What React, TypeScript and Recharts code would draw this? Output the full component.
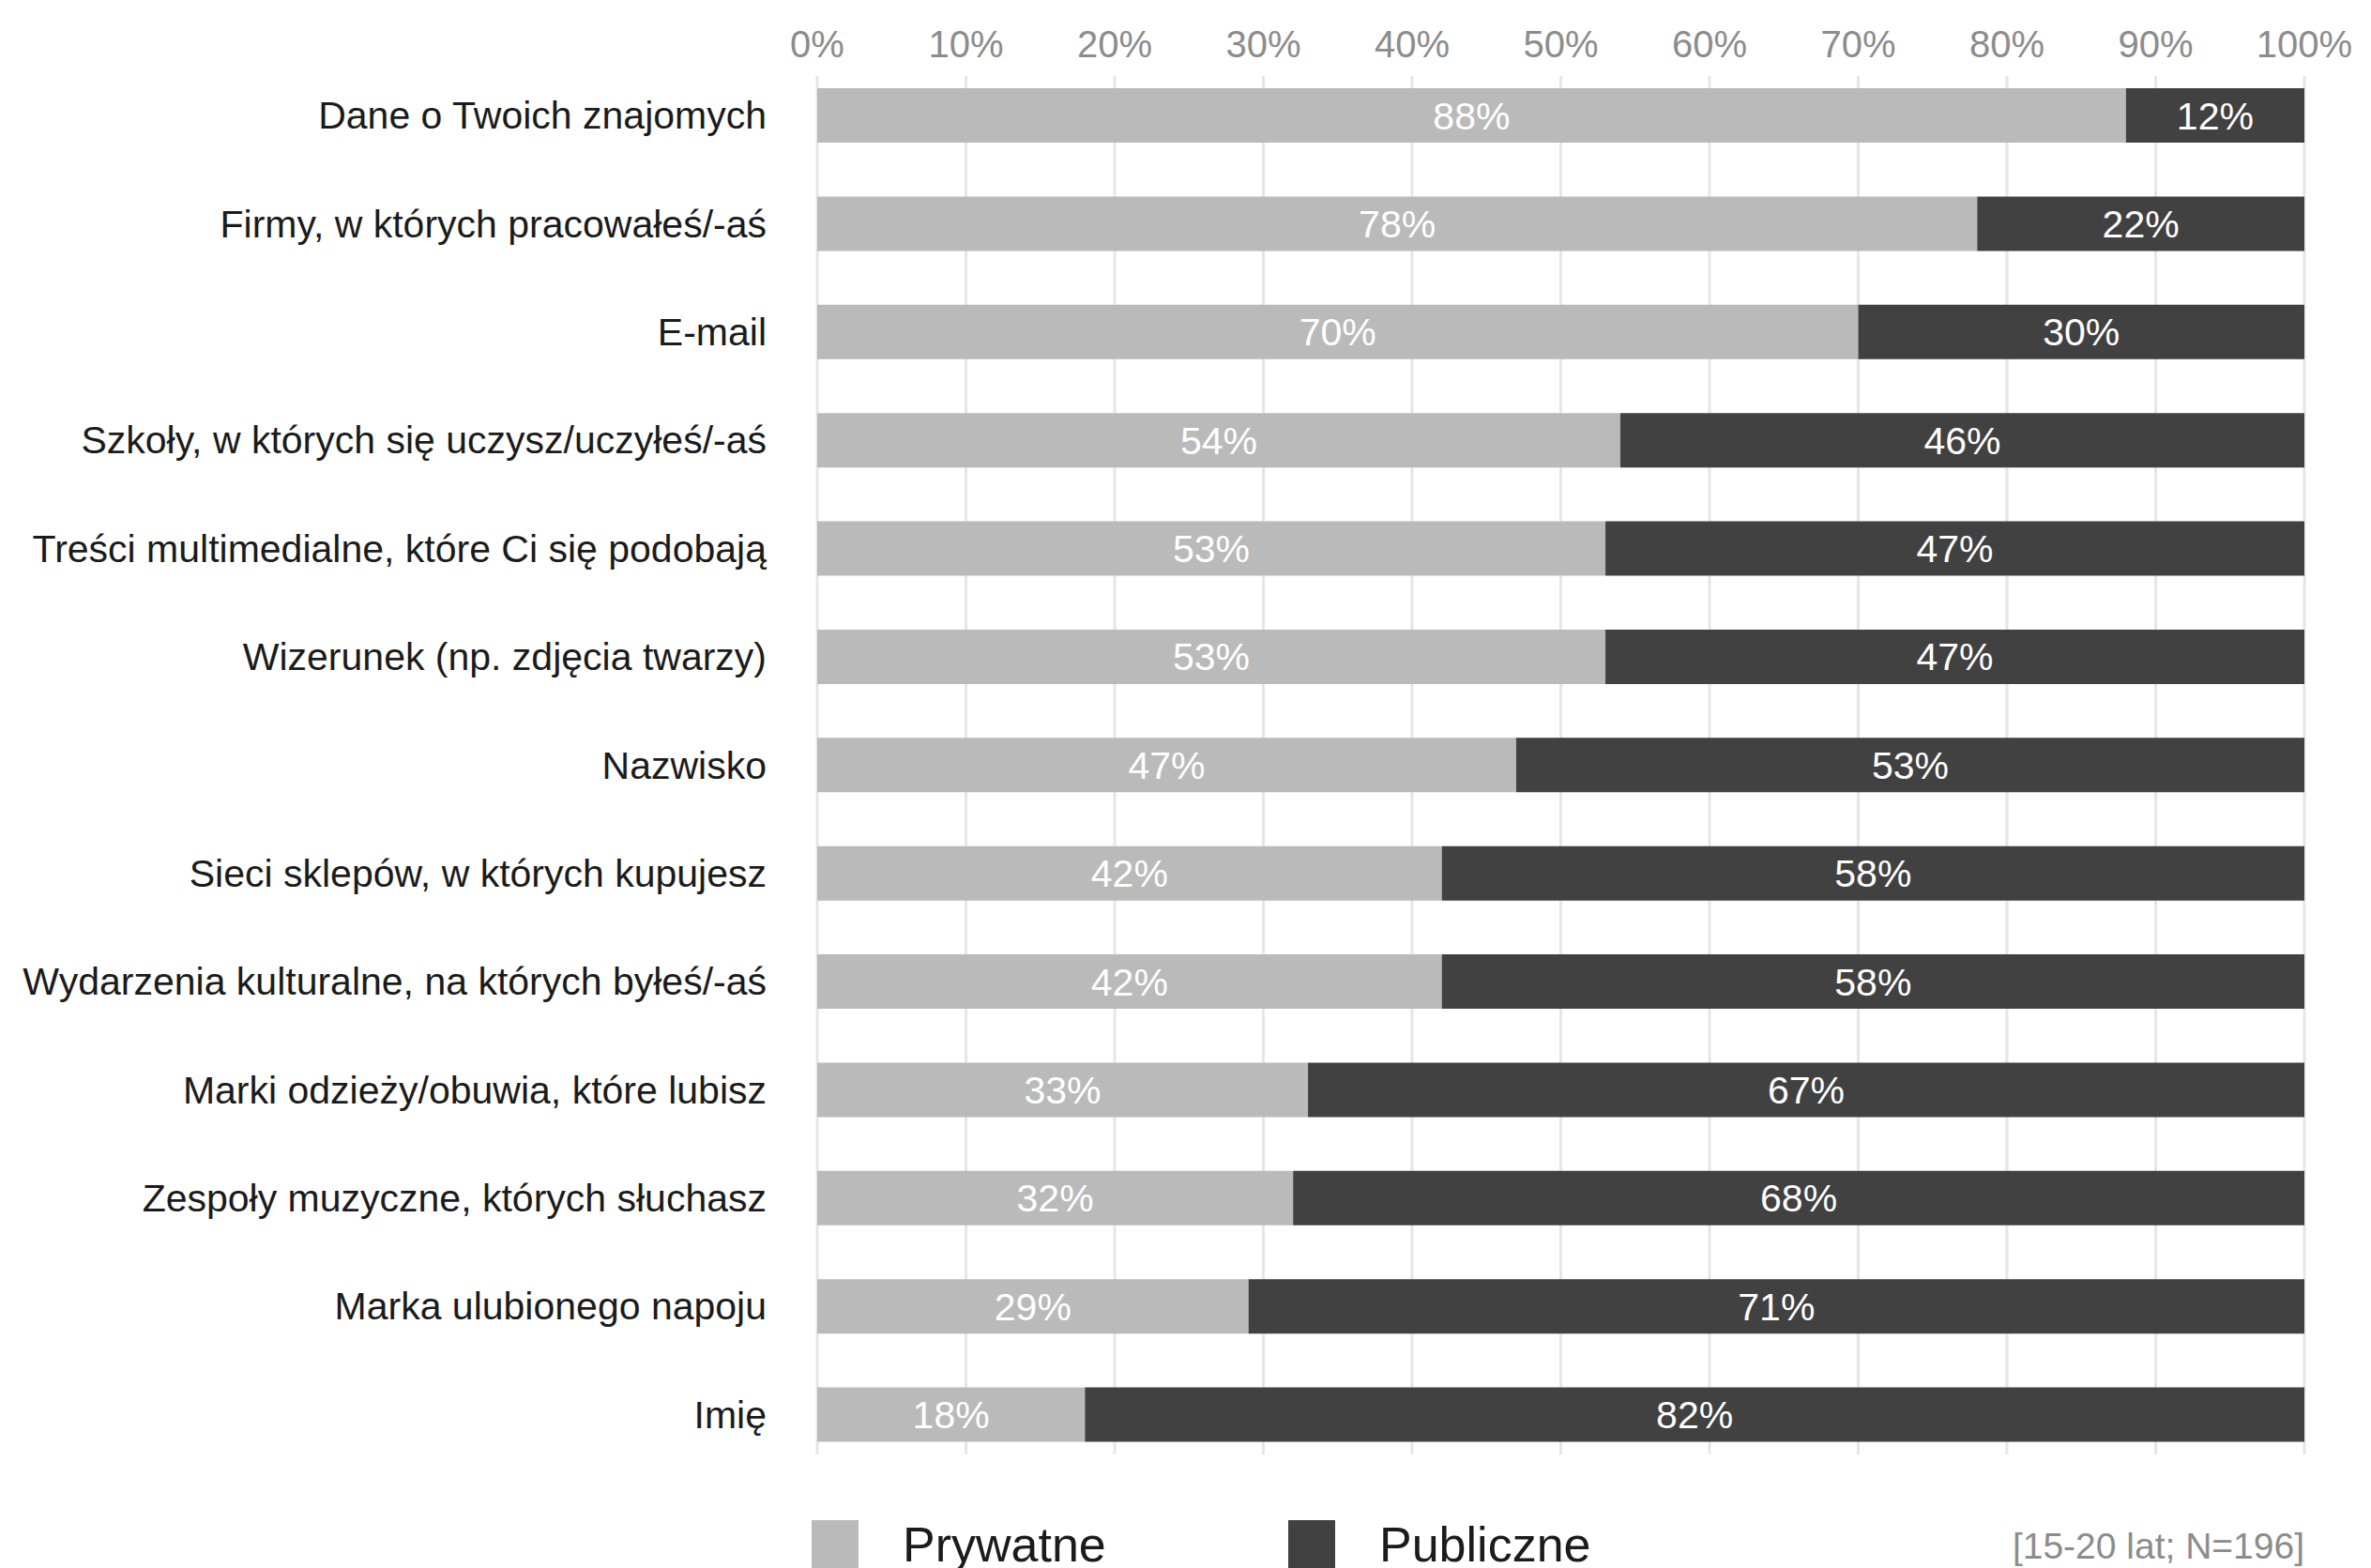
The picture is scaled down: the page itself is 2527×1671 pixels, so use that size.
import React from 'react';
import { BarChart, Bar, XAxis, YAxis, CartesianGrid, LabelList } from 'recharts';

const categories = [
  'Dane o Twoich znajomych',
  'Firmy, w których pracowałeś/-aś',
  'E-mail',
  'Szkoły, w których się uczysz/uczyłeś/-aś',
  'Treści multimedialne, które Ci się podobają',
  'Wizerunek (np. zdjęcia twarzy)',
  'Nazwisko',
  'Sieci sklepów, w których kupujesz',
  'Wydarzenia kulturalne, na których byłeś/-aś',
  'Marki odzieży/obuwia, które lubisz',
  'Zespoły muzyczne, których słuchasz',
  'Marka ulubionego napoju',
  'Imię',
];
const prywatne = [88, 78, 70, 54, 53, 53, 47, 42, 42, 33, 32, 29, 18];
const publiczne = [12, 22, 30, 46, 47, 47, 53, 58, 58, 67, 68, 71, 82];
const xTicks = [0, 10, 20, 30, 40, 50, 60, 70, 80, 90, 100];

const LIGHT = '#bababa';
const DARK = '#414141';
const FONT = '"Liberation Sans", Arial, sans-serif';

const data = categories.map((name, i) => ({ name, prywatne: prywatne[i], publiczne: publiczne[i] }));

const legendItems = [
  { label: 'Prywatne', color: LIGHT },
  { label: 'Publiczne', color: DARK },
];

export default function App() {
  return (
    <div style={{ position: 'absolute', left: 0, top: 0, width: 2527, height: 1671, background: '#fff', fontFamily: FONT, overflow: 'hidden' }}>
      <BarChart
        width={2527}
        height={1671}
        data={data}
        layout="vertical"
        margin={{ top: 0, right: 71, bottom: 106, left: 0 }}
        barSize={58}
      >
        <CartesianGrid horizontal={false} stroke="#e6e6e6" strokeWidth={3} y={81} height={1469} />
        <XAxis
          type="number"
          orientation="top"
          domain={[0, 100]}
          ticks={xTicks}
          tickFormatter={(v: number) => `${v}%`}
          axisLine={false}
          tickLine={false}
          tickSize={0}
          tickMargin={4}
          height={65}
          interval={0}
          tick={{ fill: '#8c8c8c', fontSize: 40, fontFamily: FONT }}
        />
        <YAxis
          type="category"
          dataKey="name"
          width={871}
          axisLine={false}
          tickLine={false}
          tickSize={0}
          tickMargin={54}
          interval={0}
          tick={{ fill: '#1b1b1b', fontSize: 41, fontFamily: FONT }}
        />
        <Bar dataKey="prywatne" stackId="a" fill={LIGHT} isAnimationActive={false}>
          <LabelList dataKey="prywatne" position="center" formatter={(v: any) => `${v}%`} fill="#ffffff" fontSize={41} fontFamily={FONT} />
        </Bar>
        <Bar dataKey="publiczne" stackId="a" fill={DARK} isAnimationActive={false}>
          <LabelList dataKey="publiczne" position="center" formatter={(v: any) => `${v}%`} fill="#ffffff" fontSize={41} fontFamily={FONT} />
        </Bar>
      </BarChart>
      <div style={{ position: 'absolute', left: 865, top: 1620, display: 'flex', alignItems: 'center' }}>
        {legendItems.map((it, i) => (
          <div key={it.label} style={{ display: 'flex', alignItems: 'center', width: i === 0 ? 508 : 'auto' }}>
            <div style={{ width: 50, height: 52, background: it.color }} />
            <span style={{ marginLeft: 47, fontSize: 52, color: '#1b1b1b', lineHeight: '52px' }}>{it.label}</span>
          </div>
        ))}
      </div>
      <div style={{ position: 'absolute', right: 71, top: 1625, fontSize: 39, color: '#8c8c8c', lineHeight: '45px' }}>
        [15-20 lat; N=196]
      </div>
    </div>
  );
}
